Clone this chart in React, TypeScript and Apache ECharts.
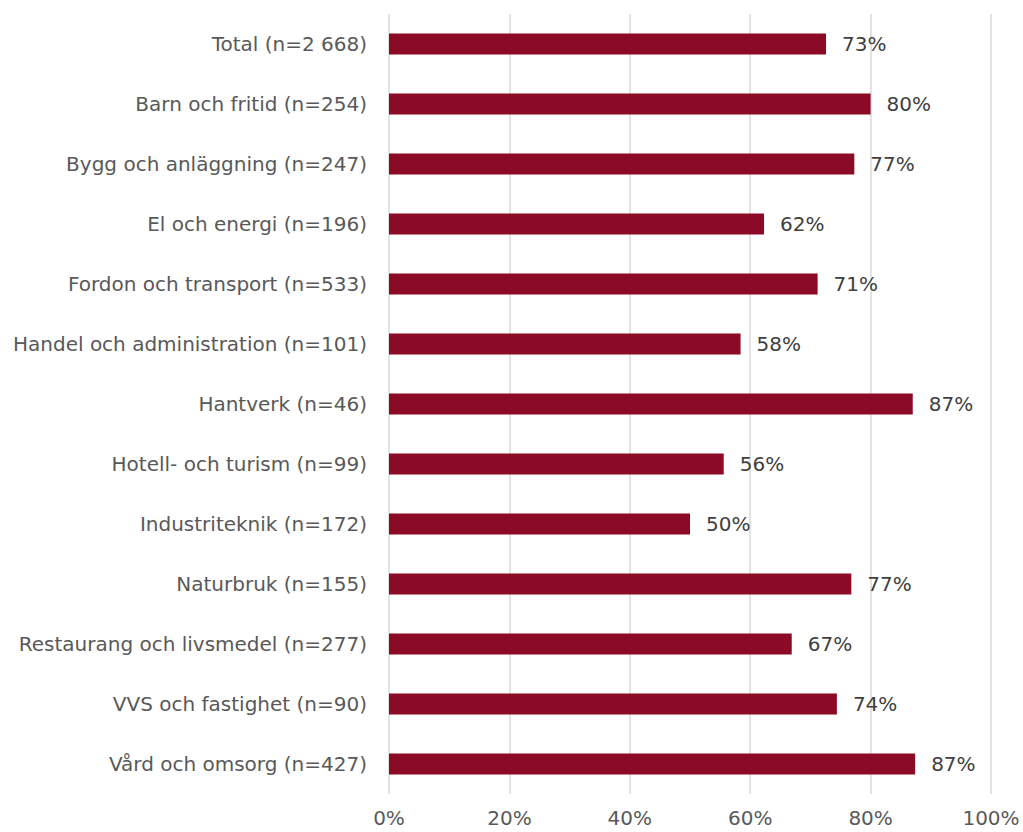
import React, { useEffect, useRef } from "react";
import * as echarts from "echarts";

const categories = [
  "Total (n=2 668)",
  "Barn och fritid (n=254)",
  "Bygg och anläggning (n=247)",
  "El och energi (n=196)",
  "Fordon och transport (n=533)",
  "Handel och administration (n=101)",
  "Hantverk (n=46)",
  "Hotell- och turism (n=99)",
  "Industriteknik (n=172)",
  "Naturbruk (n=155)",
  "Restaurang och livsmedel (n=277)",
  "VVS och fastighet (n=90)",
  "Vård och omsorg (n=427)",
];

const values = [72.6, 80.0, 77.3, 62.3, 71.2, 58.4, 87.0, 55.6, 50.0, 76.8, 66.9, 74.4, 87.4];

const FONT = "DejaVu Sans";

export default function App() {
  const ref = useRef<HTMLDivElement>(null);
  useEffect(() => {
    if (!ref.current) return;
    const chart = echarts.init(ref.current, null, { renderer: "svg" });
    chart.setOption({
      animation: false,
      backgroundColor: "#ffffff",
      grid: { left: 389, right: 32, top: 14, bottom: 38, containLabel: false },
      xAxis: {
        type: "value",
        min: 0,
        max: 100,
        interval: 20,
        axisLine: { show: false },
        axisTick: { show: false },
        splitLine: { show: true, lineStyle: { color: "#d9d9d9", width: 1.5 } },
        axisLabel: {
          formatter: "{value}%",
          color: "#595959",
          fontFamily: FONT,
          fontSize: 20,
          margin: 14,
        },
      },
      yAxis: {
        type: "category",
        data: categories,
        inverse: true,
        axisLine: { show: false },
        axisTick: { show: false },
        axisLabel: {
          color: "#595959",
          fontFamily: FONT,
          fontSize: 20,
          margin: 22,
        },
      },
      series: [
        {
          type: "bar",
          data: values,
          barWidth: 21,
          itemStyle: { color: "#8b0a26" },
          label: {
            show: true,
            position: "right",
            distance: 16,
            formatter: (p: any) => Math.round(p.value) + "%",
            color: "#404040",
            fontFamily: FONT,
            fontSize: 20,
          },
        },
      ],
    });
    return () => chart.dispose();
  }, []);
  return (
    <div
      ref={ref}
      style={{ position: "fixed", left: 0, top: 0, width: 1023, height: 832, background: "#fff" }}
    />
  );
}
